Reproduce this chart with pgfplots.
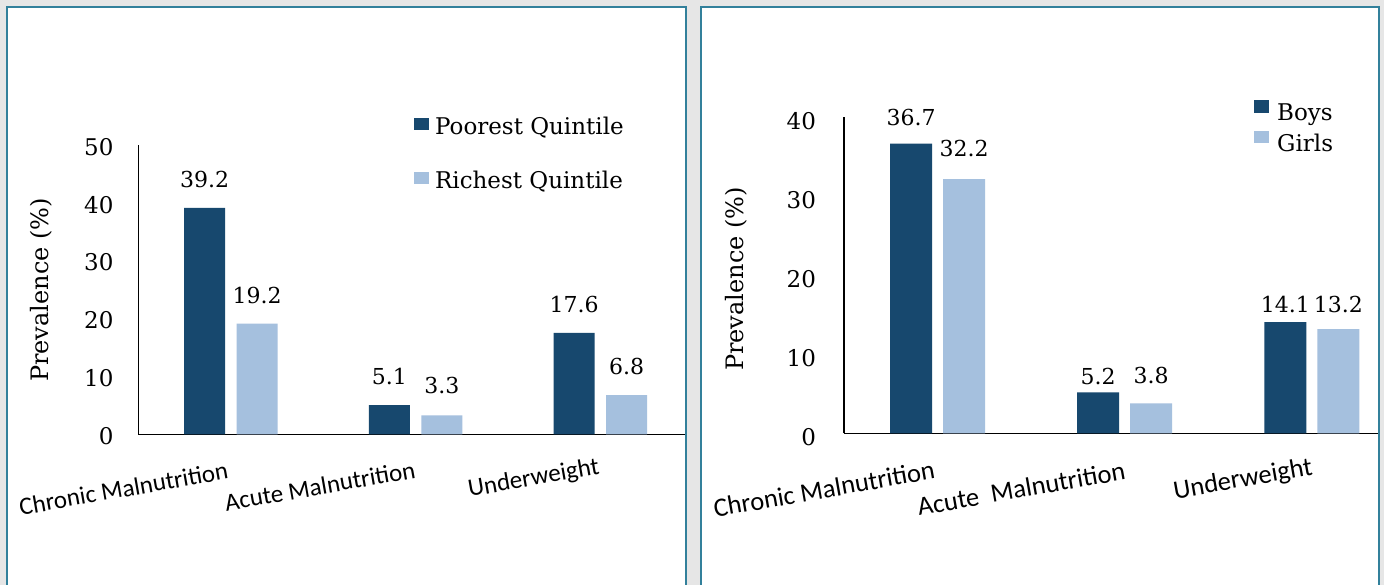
\documentclass[border=0pt]{standalone}
\usepackage{fontspec}
\setmainfont{DejaVu Serif}
\newfontfamily\carl{Carlito}
\usepackage{pgfplots}
\pgfplotsset{compat=1.18}
\usepackage{pgfplotstable}
\definecolor{dkbar}{RGB}{23,72,110}
\definecolor{ltbar}{RGB}{165,192,222}
\definecolor{bgc}{RGB}{230,230,230}
\definecolor{framec}{RGB}{50,128,155}

\pgfplotstableread{
x y dy
0 39.2 28.5
1 5.1 28.5
2 17.6 28.5
}\poor
\pgfplotstableread{
x y dy
0 19.2 28.5
1 3.3 29.5
2 6.8 28.5
}\rich
\pgfplotstableread{
x y dy
0 36.7 26
1 5.2 16
2 14.1 18
}\boys
\pgfplotstableread{
x y dy
0 32.2 31
1 3.8 28
2 13.2 25
}\girls

\pgfplotsset{
  mybase/.style={
    axis x line=bottom, axis y line=left,
    axis line style={-, line width=1.1pt, black},
    major tick length=0pt,
    ymin=0, xmin=-0.5,
    xtick={0,1,2},
    ybar,
    enlargelimits=false,
    clip=false,
    anchor=origin,
    /pgf/number format/assume math mode=true,
    tick label style={font=\fontsize{23}{23}\selectfont},
    nodes near coords={\pgfmathprintnumber[fixed,fixed zerofill,precision=1]{\pgfplotspointmeta}},
    visualization depends on={\thisrow{dy} \as \dy},
    every node near coord/.append style={font=\fontsize{22}{22}\selectfont, anchor=center, yshift=\dy pt},
    legend cell align=left,
    legend style={draw=none, fill=none, inner sep=0pt, anchor=north west,
      font=\fontsize{23}{23}\selectfont, nodes={inner sep=0pt}},
  }
}

\begin{document}
\begin{tikzpicture}[x=1pt,y=1pt]
\fill[bgc] (0,0) rectangle (1384,585);
\path[use as bounding box] (0,0) rectangle (1384,585);
\fill[white] (7,-5) rectangle (686,578);
\fill[white] (701,-5) rectangle (1379,578);

\node[rotate=90, font=\fontsize{24}{24}\selectfont] at (41,295) {Prevalence (\%)};
\node[rotate=90, font=\fontsize{24}{24}\selectfont] at (736,306) {Prevalence (\%)};

\begin{axis}[mybase, at={(230.875pt,150.5pt)},
  x=184.75pt, y=5.78pt, xmax=2.469, ymax=50, ytick={0,10,...,50},
  xticklabels={Chronic Malnutrition, Acute Malnutrition, Underweight},
  xticklabel style={font=\carl\fontsize{25}{25}\selectfont, anchor=center,
    xshift={\ticknum==0 ? -107.25 : (\ticknum==1 ? -95.75 : -66.75)},
    yshift={\ticknum==0 ? -54 : (\ticknum==1 ? -51.5 : -44.5)}, rotate=10},
  yticklabel style={xshift=-21.5pt, yshift=-1.5pt},
  legend image code/.code={\fill[#1,draw=none] (0pt,-3.5pt) rectangle (15pt,9pt); \path (21pt,0pt);},
  legend style={at={(0.5021,1.0986)}, row sep=35pt},
  ]
\addplot[fill=dkbar, draw=none, bar width=41pt, bar shift=-26.25pt] table {\poor};
\addplot[fill=ltbar, draw=none, bar width=41pt, bar shift=26.25pt] table {\rich};
\legend{Poorest Quintile, Richest Quintile}
\end{axis}

\begin{axis}[mybase, at={(937.55pt,151.5pt)},
  x=187.1pt, y=7.9pt, xmax=2.359, ymax=40, ytick={0,10,...,40},
  xticklabels={Chronic Malnutrition, {Acute\ \ Malnutrition}, Underweight},
  xticklabel style={font=\carl\fontsize{26.5}{26.5}\selectfont, anchor=center,
    xshift={\ticknum==0 ? -113.5 : (\ticknum==1 ? -103.5 : -68.75)},
    yshift={\ticknum==0 ? -55.5 : (\ticknum==1 ? -55 : -46.5)}, rotate=10},
  yticklabel style={xshift=-24.5pt, yshift=-4pt},
  legend image code/.code={\fill[#1,draw=none] (0pt,0.5pt) rectangle (15pt,13pt); \path (23pt,0pt);},
  legend style={at={(0.7664,1.055)}, row sep=8.5pt},
  ]
\addplot[fill=dkbar, draw=none, bar width=42pt, bar shift=-26.5pt] table {\boys};
\addplot[fill=ltbar, draw=none, bar width=42pt, bar shift=26.5pt] table {\girls};
\legend{Boys, Girls}
\end{axis}

\draw[framec, line width=2pt] (7,-5) -- (7,578) -- (686,578) -- (686,-5);
\draw[framec, line width=2pt] (701,-5) -- (701,578) -- (1379,578) -- (1379,-5);
\end{tikzpicture}
\end{document}
